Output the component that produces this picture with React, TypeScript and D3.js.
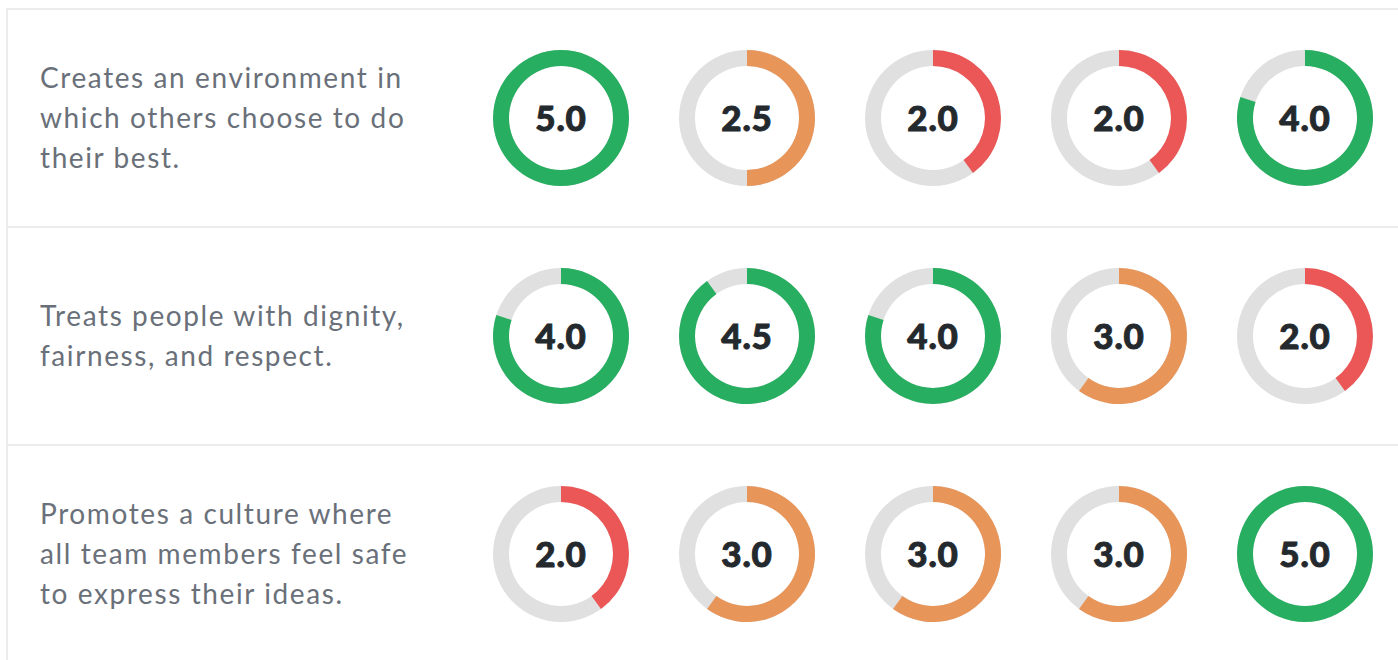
import React from "react";
import * as d3 from "d3";

const statements: string[][] = [
  ["Creates an environment in", "which others choose to do", "their best."],
  ["Treats people with dignity,", "fairness, and respect."],
  ["Promotes a culture where", "all team members feel safe", "to express their ideas."],
];
const raters = ["A", "B", "C", "D", "E"];
const scores: number[][] = [
  [5.0, 2.5, 2.0, 2.0, 4.0],
  [4.0, 4.5, 4.0, 3.0, 2.0],
  [2.0, 3.0, 3.0, 3.0, 5.0],
];
const maxScore = 5;

const W = 1398;
const H = 660;

function colorFor(v: number) {
  if (v >= 4) return "#27ae60";
  if (v > 2) return "#e8955a";
  return "#eb5757";
}

export default function App() {
  const left = 7;
  const top = 9;
  const rowH = 218;
  const x = d3.scalePoint<string>().domain(raters).range([561, 1305]);
  const angle = d3.scaleLinear().domain([0, maxScore]).range([0, 2 * Math.PI]);
  const rOuter = 68;
  const rInner = 52;
  const arc = d3.arc<any>().innerRadius(rInner).outerRadius(rOuter);
  const lineH = 40;
  const font = "'Source Sans Pro', Lato, 'Open Sans', sans-serif";

  return (
    <svg
      width={W}
      height={H}
      style={{ position: "absolute", left: 0, top: 0, background: "#fff" }}
    >
      {statements.map((lines, i) => {
        const y0 = top + i * rowH;
        const cy = y0 + rowH / 2;
        return (
          <g key={i}>
            <rect x={left} y={y0} width={W - left} height={rowH} fill="#ffffff" />
            {lines.map((ln, j) => (
              <text
                key={j}
                x={40}
                y={cy + (j - (lines.length - 1) / 2) * lineH}
                dy="0.35em"
                fontFamily={font}
                fontSize={28}
                letterSpacing={1.6}
                fill="#6a7079"
              >
                {ln}
              </text>
            ))}
            {scores[i].map((v, k) => {
              const cx = x(raters[k])!;
              return (
                <g key={k} transform={`translate(${cx},${cy})`}>
                  <path d={arc({ startAngle: 0, endAngle: 2 * Math.PI })!} fill="#e0e0e0" />
                  <path d={arc({ startAngle: 0, endAngle: angle(v) })!} fill={colorFor(v)} />
                  <text
                    textAnchor="middle"
                    dy="0.36em"
                    fontFamily={font}
                    fontWeight={900}
                    fontSize={35}
                    letterSpacing={0.8}
                    fill="#24292e"
                    stroke="#24292e"
                    strokeWidth={0.9}
                  >
                    {v.toFixed(1)}
                  </text>
                </g>
              );
            })}
          </g>
        );
      })}
      {/* borders */}
      <rect x={left - 1} y={top - 1} width={2} height={H} fill="#ececec" />
      <rect x={left - 1} y={top - 1} width={W} height={2} fill="#ececec" />
      {[1, 2].map((i) => (
        <rect key={i} x={left} y={top + i * rowH - 1} width={W} height={2} fill="#ececec" />
      ))}
    </svg>
  );
}
